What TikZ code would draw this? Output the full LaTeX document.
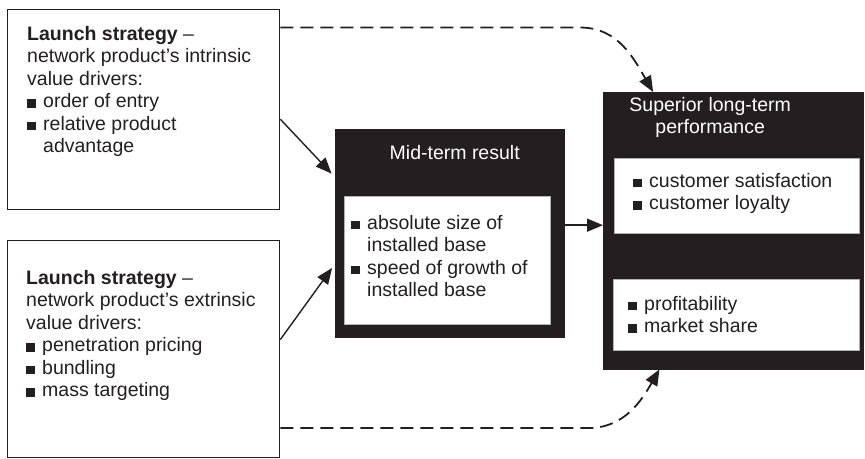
\documentclass[tikz,border=0pt]{standalone}
\usepackage{fontspec}
\setmainfont{Liberation Sans}
\usetikzlibrary{positioning,arrows.meta}

\definecolor{panel}{HTML}{231F20}
\newcommand{\bul}{\makebox[16pt][l]{\rule{8.5pt}{8.5pt}}}
\newcommand{\hang}{\hspace*{16pt}}

\tikzset{
  box/.style={draw=panel, line width=1.3pt, anchor=north west, inner sep=0pt},
  dark/.style={fill=panel, draw=panel, anchor=north west, inner sep=0pt},
  light/.style={fill=white, draw=gray!60, line width=0.6pt, anchor=north west, inner sep=0pt},
  txt/.style={anchor=north west, inner sep=0pt, align=left, text=panel,
    font=\fontsize{19.5}{22.5}\selectfont},
  head/.style={inner sep=0pt, align=center, text=white,
    font=\fontsize{19.5}{22.5}\selectfont},
  arr/.style={line width=1.4pt, draw=panel, -{Triangle[length=16pt,width=13pt]}},
  darr/.style={arr, line width=1.8pt, dash pattern=on 13pt off 7pt},
}

\begin{document}
\begin{tikzpicture}[x=1pt,y=1pt]
  \useasboundingbox (0,0) rectangle (865,458);

  % Cajas
  \node[box, minimum width=272pt, minimum height=200pt] (intr) at (7,449) {};
  \node[box, minimum width=272pt, minimum height=217pt] (extr) at (7,218) {};
  \node[dark, minimum width=229pt, minimum height=208pt] (mid) at (335,329) {};
  \node[light, minimum width=206pt, minimum height=128pt] (midin) [below right=67pt and 9pt of mid.north west] {};
  \node[dark, minimum width=260pt, minimum height=277pt] (perf) at (603,366) {};
  \node[light, minimum width=245pt, minimum height=75pt] (perfa) [below right=66pt and 11pt of perf.north west] {};
  \node[light, minimum width=246pt, minimum height=71pt] (perfb) [below right=187pt and 10pt of perf.north west] {};

  % Textos
  \node[txt] (intrtxt) [below right=17pt and 20pt of intr.north west]
    {\textbf{Launch strategy} –\\network product’s intrinsic\\value drivers:\\
     \bul order of entry\\\bul relative product\\\hang advantage};
  \node[txt] (extrtxt) [below right=30pt and 19pt of extr.north west]
    {\textbf{Launch strategy} –\\network product’s extrinsic\\value drivers:\\
     \bul penetration pricing\\\bul bundling\\\bul mass targeting};
  \node[head] (midhead) [below=16pt of mid.north, xshift=5pt] {Mid-term result};
  \node[txt] (midtxt) [below right=19pt and 7pt of midin.north west]
    {\bul absolute size of\\\hang installed base\\\bul speed of growth of\\\hang installed base};
  \node[head] (perfhead) [below=5pt of perf.north, xshift=-23pt] {Superior long-term\\performance};
  \node[txt] (perfatxt) [below right=15pt and 19pt of perfa.north west]
    {\bul customer satisfaction\\\bul customer loyalty};
  \node[txt] (perfbtxt) [below right=17pt and 15pt of perfb.north west]
    {\bul profitability\\\bul market share};

  % Flechas
  \draw[arr, shorten >=5pt] (intr.-4.6) -- (mid.154.3);
  \draw[arr, shorten >=5pt] (extr.4.8) -- (mid.-165.3);
  \draw[arr] (mid.4.5) -- (mid.4.5 -| perf.west);
  \draw[darr] (intr.31.7) -- ++(300,0) to[out=0,in=120] (perf.120.3);
  \draw[darr] (extr.-30.3) -- ++(308,0) to[out=0,in=-120] (perf.-118.1);
\end{tikzpicture}
\end{document}
